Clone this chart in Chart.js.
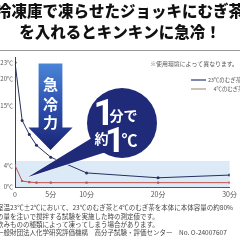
<!DOCTYPE html>
<html>
<head>
<meta charset="utf-8">
<script src="https://cdn.jsdelivr.net/npm/chart.js@4/dist/chart.umd.min.js"></script>
<style>
  html, body { margin: 0; padding: 0; background: #fff; }
  #wrap { width: 240px; height: 240px; }
</style>
</head>
<body>
<div id="wrap"><canvas id="chart" width="240" height="240"></canvas></div>
<script>
// 経過時間(分)と温度(°C)
const minutes = [0, 1, 2, 3, 5, 10, 20, 30];
const tea23 = [23, 12.3, 9.7, 7.7, 5.5, 2.6, 1.7, 2.2];
const tea4 = [4, 1.1, 0.9, 0.8, 0.8, 0.8, 0.8, 0.8];
const xTicks = [0, 5, 10, 20, 30];
const yTicks = [0, 4, 15, 20, 23];
const bandTop = 4.8;

const JP = '"Noto Sans CJK JP", "Noto Sans", sans-serif';
const NAVY = '#1f2a78';

const toPoints = (vals) => minutes.map((m, i) => ({ x: m, y: vals[i] }));

function drawOverlay(chart) {
    const ctx = chart.ctx;
    ctx.save();

    // タイトル
    ctx.fillStyle = '#111';
    ctx.textAlign = 'center';
    ctx.textBaseline = 'middle';
    ctx.font = '900 15.5px ' + JP;
    ctx.fillText('冷凍庫で凍らせたジョッキにむぎ茶', 120, 11);
    ctx.fillText('を入れるとキンキンに急冷！', 120, 32);

    ctx.strokeStyle = '#999';
    ctx.lineWidth = 1;
    ctx.beginPath();
    ctx.moveTo(0, 50.5);
    ctx.lineTo(240, 50.5);
    ctx.stroke();

    // 注記と凡例
    ctx.fillStyle = '#555';
    ctx.textAlign = 'right';
    ctx.font = '5.9px ' + JP;
    ctx.fillText('※使用環境によって異なります。', 238, 64);
    ctx.textAlign = 'left';
    ctx.font = '5.4px ' + JP;
    ctx.fillText('23℃のむぎ茶', 208, 80);
    ctx.fillText('4℃のむぎ茶', 213.5, 89);
    ctx.lineWidth = 1.3;
    ctx.strokeStyle = '#3a4a7a';
    ctx.beginPath(); ctx.moveTo(191, 80); ctx.lineTo(206, 80); ctx.stroke();
    ctx.strokeStyle = '#b0a192';
    ctx.beginPath(); ctx.moveTo(191, 89); ctx.lineTo(206, 89); ctx.stroke();

    // 急冷力の矢印
    const grad = ctx.createLinearGradient(0, 63, 0, 151);
    grad.addColorStop(0, '#4a86d8');
    grad.addColorStop(0.55, '#2a4aa8');
    grad.addColorStop(1, '#1a2370');
    ctx.beginPath();
    ctx.moveTo(38, 63);
    ctx.lineTo(63, 63);
    ctx.lineTo(63, 127);
    ctx.lineTo(74, 127);
    ctx.lineTo(50.5, 151);
    ctx.lineTo(27, 127);
    ctx.lineTo(38, 127);
    ctx.closePath();
    ctx.fillStyle = grad;
    ctx.fill();
    ctx.strokeStyle = '#fff';
    ctx.lineWidth = 1.2;
    ctx.stroke();
    ctx.fillStyle = '#fff';
    ctx.textAlign = 'center';
    ctx.font = 'bold 15px ' + JP;
    ctx.fillText('急', 50.5, 84);
    ctx.fillText('冷', 50.5, 104);
    ctx.fillText('力', 50.5, 122);

    // 吹き出し
    ctx.fillStyle = NAVY;
    ctx.strokeStyle = '#fff';
    ctx.lineWidth = 1;
    ctx.beginPath();
    ctx.moveTo(28, 177);
    ctx.lineTo(100, 133);
    ctx.lineTo(106, 152);
    ctx.closePath();
    ctx.stroke();
    ctx.fill();
    ctx.beginPath();
    ctx.arc(122, 123, 35, 0, Math.PI * 2);
    ctx.fill();

    ctx.fillStyle = '#fff';
    ctx.textBaseline = 'alphabetic';
    ctx.font = 'bold 37px Roboto, sans-serif';
    ctx.fillText('1', 104, 125);
    ctx.font = 'bold 14px ' + JP;
    ctx.textAlign = 'left';
    ctx.fillText('分で', 109.5, 121);
    ctx.fillText('約', 94.5, 144);
    ctx.textAlign = 'center';
    ctx.font = 'bold 35px Roboto, sans-serif';
    ctx.fillText('1', 115, 152);
    ctx.textAlign = 'left';
    ctx.font = 'bold 16px ' + JP;
    ctx.fillText('℃', 121.5, 146);

    // 脚注
    ctx.fillStyle = '#444';
    ctx.textBaseline = 'middle';
    ctx.font = '6.5px ' + JP;
    ctx.fillText('室温23℃±2℃において、23℃のむぎ茶と4℃のむぎ茶を本体に本体容量の約80%', -3, 208);
    ctx.fillText('の量を注いで撹拌する試験を実施した時の測定値です。', -3, 217);
    ctx.fillText('飲みものの種類によって凍ってしまう場合があります。', -3, 225);
    ctx.fillText('一般財団法人化学研究評価機構　高分子試験・評価センター　No. O-24007607', -3, 233);

    ctx.restore();
}

const overlay = {
    id: 'overlay',
    beforeDatasetsDraw(chart) {
        const { ctx, scales: { x, y } } = chart;
        ctx.save();
        ctx.fillStyle = '#dceaf7';
        const top = y.getPixelForValue(bandTop);
        const bottom = y.getPixelForValue(0);
        ctx.fillRect(x.left + 1, top, x.right - x.left - 1, bottom - top);
        ctx.restore();
    },
    afterDraw(chart) {
        drawOverlay(chart);
    }
};

new Chart(document.getElementById('chart'), {
    type: 'line',
    data: {
        datasets: [{
            label: '23℃のむぎ茶',
            data: toPoints(tea23),
            borderColor: '#26305e',
            backgroundColor: '#26305e',
            borderWidth: 1,
            pointRadius: 1.5,
            pointBorderWidth: 0,
            tension: 0
        }, {
            label: '4℃のむぎ茶',
            data: toPoints(tea4),
            borderColor: '#c0504a',
            backgroundColor: '#c0504a',
            borderWidth: 1,
            pointStyle: 'rect',
            pointRadius: 1.5,
            pointBorderWidth: 0,
            tension: 0
        }]
    },
    options: {
        responsive: false,
        animation: false,
        layout: {
            padding: { top: 57, right: 10, left: 0, bottom: 0 }
        },
        plugins: {
            legend: { display: false },
            tooltip: { enabled: false }
        },
        scales: {
            x: {
                type: 'linear',
                min: 0,
                max: 30,
                grid: { display: false, drawTicks: false },
                border: { display: true, color: '#555', width: 1 },
                afterBuildTicks: function(scale) {
                    scale.ticks = xTicks.map(v => ({ value: v }));
                },
                afterFit: function(scale) {
                    scale.height = 53;
                },
                ticks: {
                    padding: 3,
                    maxRotation: 0,
                    color: '#555',
                    font: { size: 7, family: JP },
                    callback: function(value) {
                        return value === 0 ? '0' : value + '分';
                    }
                }
            },
            y: {
                min: 0,
                max: 24,
                grid: { display: false, drawTicks: false },
                border: { display: true, color: '#444', width: 1 },
                afterBuildTicks: function(scale) {
                    scale.ticks = yTicks.map(v => ({ value: v }));
                },
                afterFit: function(scale) {
                    scale.width = 15;
                },
                ticks: {
                    padding: 2,
                    color: '#555',
                    font: { size: 6, family: JP },
                    callback: function(value) {
                        return value + '℃';
                    }
                }
            }
        }
    },
    plugins: [overlay]
});
</script>
</body>
</html>
